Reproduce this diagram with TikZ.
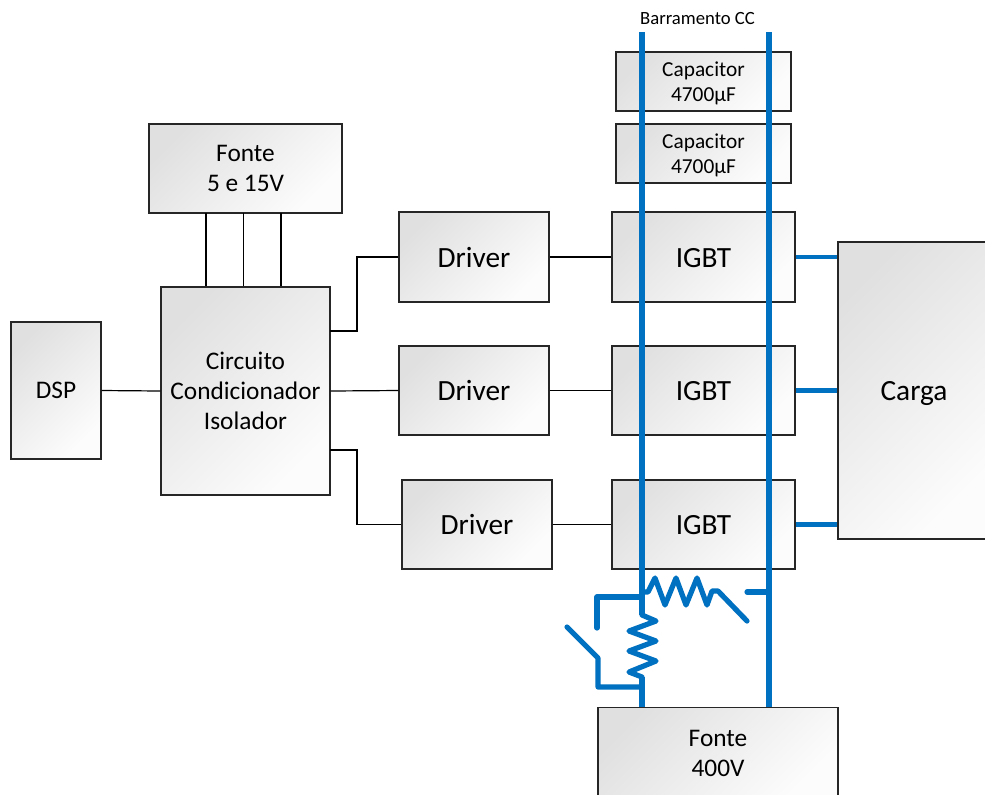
\documentclass[tikz,border=0pt]{standalone}
\usepackage{fontspec}
\setmainfont{Carlito}
\definecolor{busblue}{HTML}{0070C0}
\tikzset{
    block/.style 2 args={draw=black!85,line width=1pt,top color=black!12,bottom color=black!1,shading angle=45,
        align=center,inner sep=0pt,minimum width=#1*0.75pt,minimum height=#2*0.75pt},
    bus/.style={busblue,line width=4.5pt},
    wire/.style={busblue,line width=3.9pt,line join=round,line cap=round},
    link/.style={black,line width=0.9pt},
    txta/.style={font=\fontsize{14}{17}\selectfont},
    txtb/.style={font=\fontsize{16}{19}\selectfont,text depth=0pt},
    txtc/.style={font=\fontsize{19}{22.5}\selectfont},
    txtd/.style={font=\fontsize{22}{24}\selectfont,text height=15pt,text depth=0pt}
}
\begin{document}
\begin{tikzpicture}[x=0.75pt,y=-0.75pt]
    \useasboundingbox (0,0) rectangle (985,794);

    \node[block={90}{137},txtc] (dsp) at (56,390.5) {DSP};
    \node[block={169}{208},txtc] (circ) at (245.5,391) {Circuito\\Condicionador\\Isolador};
    \node[block={193}{89},txtc] (fonteb) at (245.5,168.5) {Fonte\\5 e 15V};
    \node[block={150}{90},txtd] (drva) at (474,257) {Driver};
    \node[block={150}{89},txtd] (drvb) at (474,390.5) {Driver};
    \node[block={150}{89},txtd] (drvc) at (477,524.5) {Driver};
    \node[block={183}{90},txtd] (igbta) at (703.5,257) {IGBT};
    \node[block={183}{89},txtd] (igbtb) at (703.5,390.5) {IGBT};
    \node[block={183}{89},txtd] (igbtc) at (703.5,524.5) {IGBT};
    \node[block={175}{59},txtb] (capa) at (703.5,81.5) {Capacitor\\4700µF};
    \node[block={175}{59},txtb] (capb) at (703.5,153.5) {Capacitor\\4700µF};
    \node[block={152}{297},txtd] (carga) at (914,390.5) {Carga};
    \node[block={240}{92},txtc] (fontea) at (718,753.5) {Fonte\\400V};
    \node[txta,inner sep=0pt] (barra) at (697.5,19) {Barramento CC};

    \coordinate (lsa) at (206,213);
    \coordinate (lsb) at (243.5,213);
    \coordinate (lsc) at (281,213);
    \coordinate (outa) at (330,331);
    \coordinate (outc) at (330,450);
    \draw[link] (lsa) -- (lsa |- circ.north);
    \draw[link] (lsb) -- (lsb |- circ.north);
    \draw[link] (lsc) -- (lsc |- circ.north);
    \draw[link] (dsp.east) -- (circ.west);
    \draw[link] (outa) -- ++(27,0) |- (drva.west);
    \draw[link] (circ.east) -- (drvb.west);
    \draw[link] (outc) -- ++(27,0) |- (drvc.west);
    \draw[link] (drva.east) -- (igbta.west);
    \draw[link] (drvb.east) -- (igbtb.west);
    \draw[link] (drvc.east) -- (igbtc.west);

    \coordinate (busl) at (642,32);
    \coordinate (busr) at (769,32);
    \draw[bus] (busl) -- (642,615);
    \draw[bus] (642,677) -- (642,707);
    \draw[bus] (busr) -- (busr |- fontea.north);
    \draw[bus,line width=3.2pt] (igbta.east) -- (igbta.east -| carga.west);
    \draw[bus,line width=3.2pt] (igbtb.east) -- (igbtb.east -| carga.west);
    \draw[bus,line width=3.2pt] (igbtc.east) -- (igbtc.east -| carga.west);

    \draw[wire] (642,592) -- (648,592) -- (655,578) -- (665,605) -- (676,578) -- (686,605) -- (697,578) -- (707,605) -- (712,591) -- (718,591) -- (747,621);
    \draw[wire] (747,592) -- (769,592);
    \draw[wire] (642,615) -- (656,621) -- (629,631) -- (656,641) -- (629,651) -- (656,661) -- (629,672) -- (642,677);
    \draw[wire] (642,597) -- (597,597) -- (597,628);
    \draw[wire] (642,687) -- (598,687) -- (598,658) -- (567,627);
\end{tikzpicture}
\end{document}
